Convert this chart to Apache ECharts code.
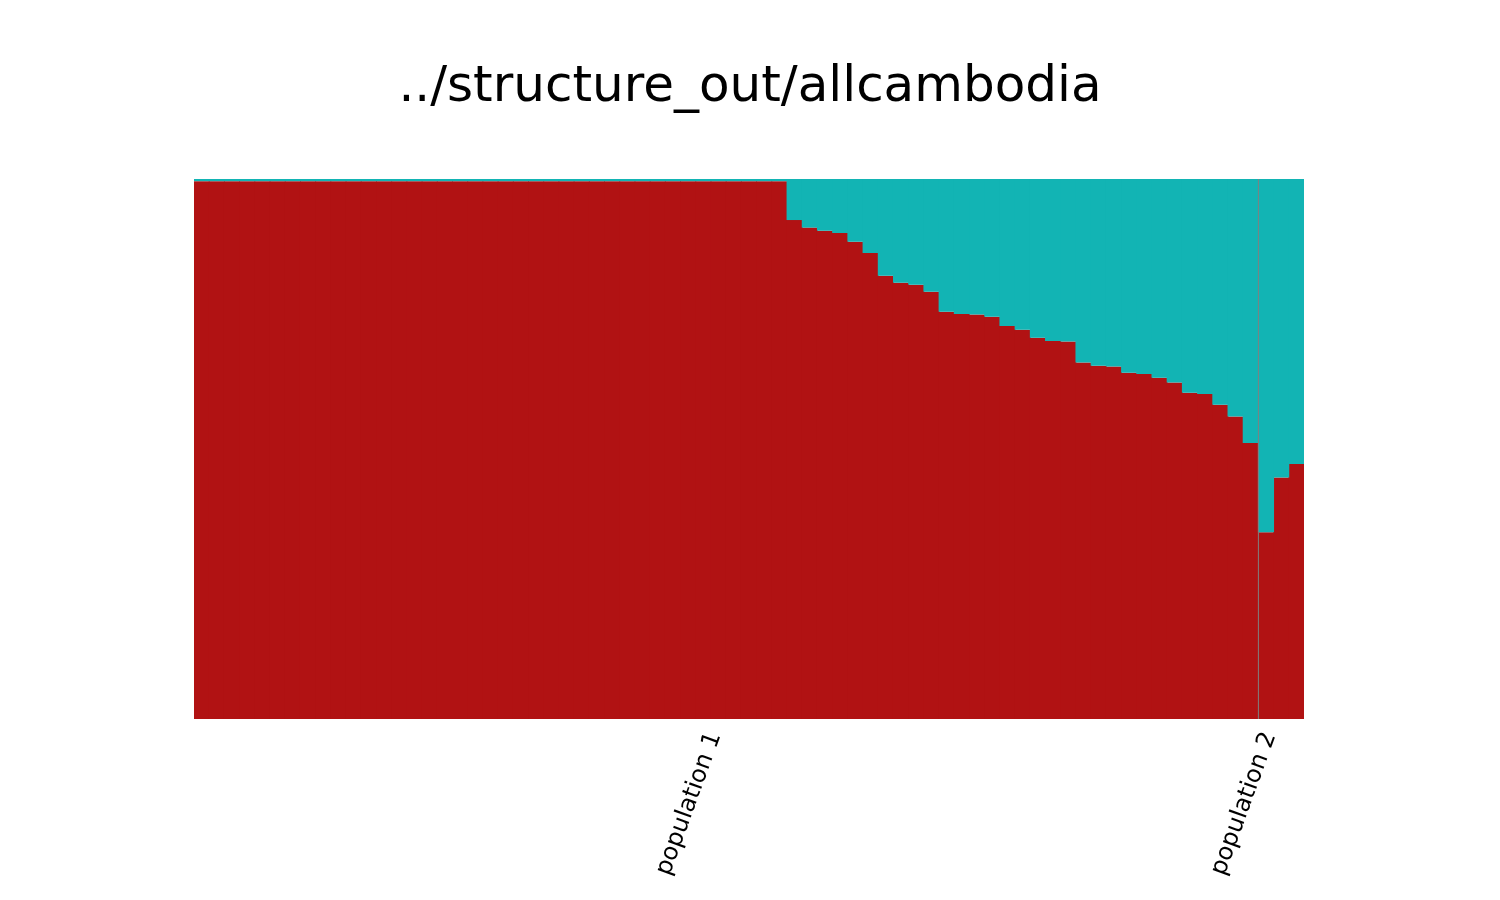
<!DOCTYPE html>
<html>
<head>
<meta charset="utf-8">
<title>allcambodia</title>
<script src="https://cdn.jsdelivr.net/npm/echarts@6/dist/echarts.min.js"></script>
<style>
  html, body { margin: 0; padding: 0; background: #fff; }
  #chart { width: 1500px; height: 900px; }
</style>
</head>
<body>
<div id="chart"></div>
<script>
// populations and how many individuals each holds
const popNames = ['population 1', 'population 2'];
const popSizes = [70, 3];

// membership coefficient per individual, cluster 1 (red, bottom)
const cluster1 = [
  0.996, 0.996, 0.996, 0.996, 0.996, 0.996, 0.996, 0.996, 0.996, 0.996,
  0.996, 0.996, 0.996, 0.996, 0.996, 0.996, 0.996, 0.996, 0.996, 0.996,
  0.996, 0.996, 0.996, 0.996, 0.996, 0.996, 0.996, 0.996, 0.996, 0.996,
  0.996, 0.996, 0.996, 0.996, 0.996, 0.996, 0.996, 0.996, 0.996,
  0.924, 0.910, 0.904, 0.900, 0.884, 0.863, 0.821, 0.808, 0.804, 0.791,
  0.754, 0.750, 0.749, 0.745, 0.728, 0.721, 0.706, 0.700, 0.699, 0.660,
  0.654, 0.653, 0.641, 0.639, 0.632, 0.623, 0.604, 0.602, 0.582, 0.560,
  0.511,
  0.346, 0.447, 0.472
];
// cluster 2 (teal, top)
const cluster2 = [
  0.004, 0.004, 0.004, 0.004, 0.004, 0.004, 0.004, 0.004, 0.004, 0.004,
  0.004, 0.004, 0.004, 0.004, 0.004, 0.004, 0.004, 0.004, 0.004, 0.004,
  0.004, 0.004, 0.004, 0.004, 0.004, 0.004, 0.004, 0.004, 0.004, 0.004,
  0.004, 0.004, 0.004, 0.004, 0.004, 0.004, 0.004, 0.004, 0.004,
  0.076, 0.090, 0.096, 0.100, 0.116, 0.137, 0.179, 0.192, 0.196, 0.209,
  0.246, 0.250, 0.251, 0.255, 0.272, 0.279, 0.294, 0.300, 0.301, 0.340,
  0.346, 0.347, 0.359, 0.361, 0.368, 0.377, 0.396, 0.398, 0.418, 0.440,
  0.489,
  0.654, 0.553, 0.528
];

const red = '#b11213';
const teal = '#12b4b4';

const individuals = cluster1.map((v, i) => 'ind' + (i + 1));
const total = popSizes.reduce((a, b) => a + b, 0);

// label positions = middle of each population, border lines between them
let start = 0;
const popCenters = [];
const popBorders = [];
popSizes.forEach((n, i) => {
  popCenters.push(start + n / 2);
  start += n;
  if (i < popSizes.length - 1) popBorders.push(start);
});

const option = {
  animation: false,
  backgroundColor: '#ffffff',
  title: {
    text: '../structure_out/allcambodia',
    left: 'center',
    top: 58,
    textStyle: {
      fontFamily: 'DejaVu Sans',
      fontSize: 50,
      fontWeight: 'normal',
      color: '#000'
    }
  },
  grid: {
    left: 194,
    right: 196,
    top: 179,
    bottom: 181
  },
  xAxis: [
    {
      type: 'category',
      data: individuals,
      boundaryGap: true,
      axisLine: { show: false },
      axisTick: { show: false },
      axisLabel: { show: false },
      splitLine: { show: false }
    },
    {
      type: 'value',
      min: 0,
      max: total,
      position: 'bottom',
      axisLine: { show: false },
      axisTick: { show: false },
      splitLine: { show: false },
      axisLabel: {
        customValues: popCenters,
        rotate: 70,
        margin: 18,
        align: 'right',
        verticalAlign: 'bottom',
        fontFamily: 'DejaVu Sans',
        fontSize: 24,
        color: '#000',
        formatter: function (v) {
          const i = popCenters.indexOf(v);
          return i >= 0 ? popNames[i] : '';
        }
      }
    }
  ],
  yAxis: {
    type: 'value',
    min: 0,
    max: 1,
    show: false
  },
  series: [
    {
      name: 'cluster 1',
      type: 'bar',
      stack: 'q',
      xAxisIndex: 0,
      data: cluster1,
      barWidth: '106%',
      itemStyle: { color: red }
    },
    {
      name: 'cluster 2',
      type: 'bar',
      stack: 'q',
      xAxisIndex: 0,
      data: cluster2,
      barWidth: '106%',
      itemStyle: { color: teal }
    },
    {
      name: 'borders',
      type: 'line',
      xAxisIndex: 1,
      data: popBorders.flatMap(b => [[b, 0], [b, 1], null]),
      connectNulls: false,
      symbol: 'none',
      lineStyle: { color: '#808080', width: 1 },
      z: 5
    }
  ]
};

const myChart = echarts.init(document.getElementById('chart'));
myChart.setOption(option);
</script>
</body>
</html>
